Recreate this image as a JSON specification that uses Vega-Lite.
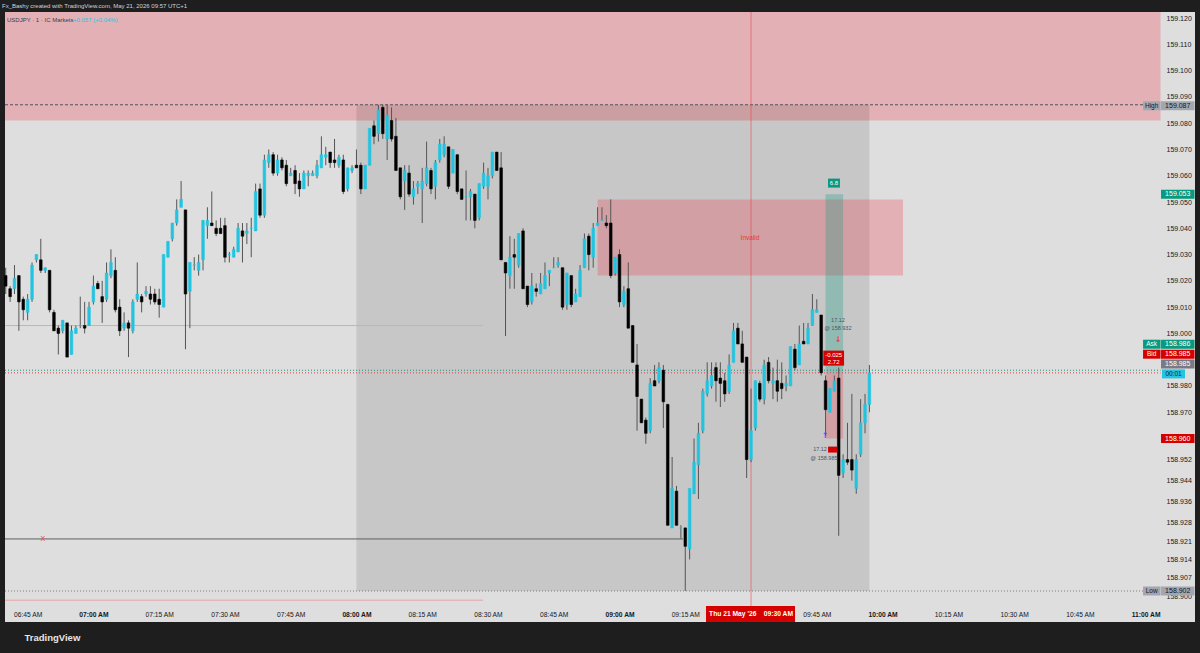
{
"$schema":"https://vega.github.io/schema/vega-lite/v6.json",
"width":1190,"height":610,
"autosize":{"type":"none"},
"padding":{"left":5,"top":12,"right":5,"bottom":31},
"background":"#1e1e1e",
"title":{"text":"Fx_Bashy created with TradingView.com, May 21, 2026 09:57 UTC+1","anchor":"start","frame":"group","orient":"top","offset":0,"baseline":"middle","fontSize":6,"fontWeight":"normal","color":"#d1d4dc","dx":-3,"font":"Liberation Sans"},
"config":{"font":"Liberation Sans","view":{"stroke":null,"fill":"#dedede"},"axis":{"grid":false,"ticks":false,"domain":false,"labelOverlap":false},"scale":{"continuousPadding":0}},
"datasets":{
"candles":[
{"d":"2026-05-21T06:40","o":159.022,"h":159.025,"l":159.015,"c":159.018},
{"d":"2026-05-21T06:41","o":159.017,"h":159.018,"l":159.012,"c":159.014},
{"d":"2026-05-21T06:42","o":159.017,"h":159.026,"l":159.015,"c":159.021},
{"d":"2026-05-21T06:43","o":159.022,"h":159.022,"l":159.001,"c":159.012},
{"d":"2026-05-21T06:44","o":159.013,"h":159.014,"l":159.005,"c":159.009},
{"d":"2026-05-21T06:45","o":159.008,"h":159.015,"l":159.005,"c":159.013},
{"d":"2026-05-21T06:46","o":159.013,"h":159.027,"l":159.012,"c":159.026},
{"d":"2026-05-21T06:47","o":159.028,"h":159.030,"l":159.027,"c":159.030},
{"d":"2026-05-21T06:48","o":159.028,"h":159.036,"l":159.023,"c":159.024},
{"d":"2026-05-21T06:49","o":159.024,"h":159.025,"l":159.023,"c":159.025},
{"d":"2026-05-21T06:50","o":159.024,"h":159.024,"l":159.008,"c":159.009},
{"d":"2026-05-21T06:51","o":159.008,"h":159.009,"l":159.001,"c":159.001},
{"d":"2026-05-21T06:52","o":159.002,"h":159.003,"l":158.992,"c":159.000},
{"d":"2026-05-21T06:53","o":159.001,"h":159.005,"l":159.000,"c":159.005},
{"d":"2026-05-21T06:54","o":159.004,"h":159.004,"l":158.991,"c":158.991},
{"d":"2026-05-21T06:55","o":158.992,"h":159.003,"l":158.992,"c":159.001},
{"d":"2026-05-21T06:56","o":159.000,"h":159.003,"l":159.000,"c":159.002},
{"d":"2026-05-21T06:57","o":159.003,"h":159.014,"l":159.002,"c":159.003},
{"d":"2026-05-21T06:58","o":159.003,"h":159.012,"l":159.000,"c":159.002},
{"d":"2026-05-21T06:59","o":159.003,"h":159.012,"l":159.003,"c":159.010},
{"d":"2026-05-21T07:00","o":159.012,"h":159.022,"l":159.011,"c":159.018},
{"d":"2026-05-21T07:01","o":159.019,"h":159.020,"l":159.017,"c":159.017},
{"d":"2026-05-21T07:02","o":159.014,"h":159.020,"l":159.004,"c":159.012},
{"d":"2026-05-21T07:03","o":159.013,"h":159.027,"l":159.012,"c":159.023},
{"d":"2026-05-21T07:04","o":159.022,"h":159.032,"l":159.021,"c":159.027},
{"d":"2026-05-21T07:05","o":159.024,"h":159.029,"l":159.008,"c":159.009},
{"d":"2026-05-21T07:06","o":159.010,"h":159.013,"l":158.999,"c":159.001},
{"d":"2026-05-21T07:07","o":159.002,"h":159.008,"l":159.001,"c":159.004},
{"d":"2026-05-21T07:08","o":159.004,"h":159.005,"l":158.991,"c":159.002},
{"d":"2026-05-21T07:09","o":159.001,"h":159.013,"l":159.000,"c":159.012},
{"d":"2026-05-21T07:10","o":159.013,"h":159.027,"l":159.012,"c":159.015},
{"d":"2026-05-21T07:11","o":159.014,"h":159.015,"l":159.008,"c":159.012},
{"d":"2026-05-21T07:12","o":159.015,"h":159.018,"l":159.014,"c":159.016},
{"d":"2026-05-21T07:13","o":159.015,"h":159.018,"l":159.011,"c":159.013},
{"d":"2026-05-21T07:14","o":159.015,"h":159.017,"l":159.011,"c":159.012},
{"d":"2026-05-21T07:15","o":159.013,"h":159.017,"l":159.006,"c":159.011},
{"d":"2026-05-21T07:16","o":159.010,"h":159.030,"l":159.010,"c":159.030},
{"d":"2026-05-21T07:17","o":159.029,"h":159.035,"l":159.029,"c":159.035},
{"d":"2026-05-21T07:18","o":159.036,"h":159.042,"l":159.035,"c":159.042},
{"d":"2026-05-21T07:19","o":159.042,"h":159.051,"l":159.041,"c":159.047},
{"d":"2026-05-21T07:20","o":159.048,"h":159.058,"l":159.048,"c":159.051},
{"d":"2026-05-21T07:21","o":159.047,"h":159.047,"l":158.994,"c":159.015},
{"d":"2026-05-21T07:22","o":159.016,"h":159.027,"l":159.002,"c":159.027},
{"d":"2026-05-21T07:23","o":159.026,"h":159.029,"l":159.024,"c":159.026},
{"d":"2026-05-21T07:24","o":159.024,"h":159.030,"l":159.022,"c":159.027},
{"d":"2026-05-21T07:25","o":159.028,"h":159.043,"l":159.024,"c":159.043},
{"d":"2026-05-21T07:26","o":159.041,"h":159.048,"l":159.036,"c":159.043},
{"d":"2026-05-21T07:27","o":159.042,"h":159.054,"l":159.041,"c":159.041},
{"d":"2026-05-21T07:28","o":159.040,"h":159.043,"l":159.037,"c":159.038},
{"d":"2026-05-21T07:29","o":159.040,"h":159.044,"l":159.038,"c":159.038},
{"d":"2026-05-21T07:30","o":159.041,"h":159.044,"l":159.027,"c":159.029},
{"d":"2026-05-21T07:31","o":159.030,"h":159.031,"l":159.027,"c":159.030},
{"d":"2026-05-21T07:32","o":159.029,"h":159.033,"l":159.029,"c":159.032},
{"d":"2026-05-21T07:33","o":159.031,"h":159.042,"l":159.031,"c":159.040},
{"d":"2026-05-21T07:34","o":159.039,"h":159.042,"l":159.027,"c":159.037},
{"d":"2026-05-21T07:35","o":159.038,"h":159.042,"l":159.034,"c":159.039},
{"d":"2026-05-21T07:36","o":159.040,"h":159.044,"l":159.029,"c":159.040},
{"d":"2026-05-21T07:37","o":159.039,"h":159.057,"l":159.039,"c":159.054},
{"d":"2026-05-21T07:38","o":159.055,"h":159.057,"l":159.044,"c":159.045},
{"d":"2026-05-21T07:39","o":159.045,"h":159.068,"l":159.044,"c":159.066},
{"d":"2026-05-21T07:40","o":159.065,"h":159.070,"l":159.063,"c":159.068},
{"d":"2026-05-21T07:41","o":159.068,"h":159.069,"l":159.060,"c":159.061},
{"d":"2026-05-21T07:42","o":159.061,"h":159.068,"l":159.060,"c":159.066},
{"d":"2026-05-21T07:43","o":159.066,"h":159.067,"l":159.062,"c":159.063},
{"d":"2026-05-21T07:44","o":159.064,"h":159.066,"l":159.056,"c":159.057},
{"d":"2026-05-21T07:45","o":159.060,"h":159.063,"l":159.060,"c":159.061},
{"d":"2026-05-21T07:46","o":159.062,"h":159.064,"l":159.053,"c":159.057},
{"d":"2026-05-21T07:47","o":159.058,"h":159.061,"l":159.052,"c":159.055},
{"d":"2026-05-21T07:48","o":159.055,"h":159.062,"l":159.055,"c":159.061},
{"d":"2026-05-21T07:49","o":159.060,"h":159.062,"l":159.056,"c":159.061},
{"d":"2026-05-21T07:50","o":159.060,"h":159.062,"l":159.060,"c":159.061},
{"d":"2026-05-21T07:51","o":159.060,"h":159.066,"l":159.059,"c":159.064},
{"d":"2026-05-21T07:52","o":159.063,"h":159.075,"l":159.063,"c":159.068},
{"d":"2026-05-21T07:53","o":159.067,"h":159.071,"l":159.064,"c":159.068},
{"d":"2026-05-21T07:54","o":159.069,"h":159.069,"l":159.063,"c":159.065},
{"d":"2026-05-21T07:55","o":159.066,"h":159.074,"l":159.063,"c":159.065},
{"d":"2026-05-21T07:56","o":159.064,"h":159.068,"l":159.063,"c":159.067},
{"d":"2026-05-21T07:57","o":159.066,"h":159.068,"l":159.053,"c":159.054},
{"d":"2026-05-21T07:58","o":159.055,"h":159.063,"l":159.054,"c":159.063},
{"d":"2026-05-21T07:59","o":159.062,"h":159.064,"l":159.061,"c":159.063},
{"d":"2026-05-21T08:00","o":159.064,"h":159.070,"l":159.063,"c":159.063},
{"d":"2026-05-21T08:01","o":159.064,"h":159.065,"l":159.053,"c":159.055},
{"d":"2026-05-21T08:02","o":159.055,"h":159.064,"l":159.055,"c":159.064},
{"d":"2026-05-21T08:03","o":159.064,"h":159.078,"l":159.064,"c":159.078},
{"d":"2026-05-21T08:04","o":159.079,"h":159.081,"l":159.072,"c":159.075},
{"d":"2026-05-21T08:05","o":159.076,"h":159.087,"l":159.073,"c":159.085},
{"d":"2026-05-21T08:06","o":159.086,"h":159.087,"l":159.074,"c":159.076},
{"d":"2026-05-21T08:07","o":159.074,"h":159.087,"l":159.066,"c":159.083},
{"d":"2026-05-21T08:08","o":159.081,"h":159.086,"l":159.073,"c":159.074},
{"d":"2026-05-21T08:09","o":159.075,"h":159.082,"l":159.062,"c":159.062},
{"d":"2026-05-21T08:10","o":159.063,"h":159.063,"l":159.051,"c":159.052},
{"d":"2026-05-21T08:11","o":159.058,"h":159.064,"l":159.047,"c":159.062},
{"d":"2026-05-21T08:12","o":159.061,"h":159.064,"l":159.052,"c":159.053},
{"d":"2026-05-21T08:13","o":159.052,"h":159.058,"l":159.049,"c":159.055},
{"d":"2026-05-21T08:14","o":159.056,"h":159.058,"l":159.053,"c":159.057},
{"d":"2026-05-21T08:15","o":159.055,"h":159.063,"l":159.042,"c":159.058},
{"d":"2026-05-21T08:16","o":159.057,"h":159.073,"l":159.056,"c":159.063},
{"d":"2026-05-21T08:17","o":159.062,"h":159.063,"l":159.053,"c":159.055},
{"d":"2026-05-21T08:18","o":159.056,"h":159.066,"l":159.051,"c":159.065},
{"d":"2026-05-21T08:19","o":159.066,"h":159.074,"l":159.065,"c":159.072},
{"d":"2026-05-21T08:20","o":159.068,"h":159.075,"l":159.067,"c":159.072},
{"d":"2026-05-21T08:21","o":159.071,"h":159.071,"l":159.055,"c":159.056},
{"d":"2026-05-21T08:22","o":159.061,"h":159.070,"l":159.061,"c":159.070},
{"d":"2026-05-21T08:23","o":159.068,"h":159.068,"l":159.053,"c":159.054},
{"d":"2026-05-21T08:24","o":159.055,"h":159.055,"l":159.051,"c":159.051},
{"d":"2026-05-21T08:25","o":159.052,"h":159.062,"l":159.043,"c":159.052},
{"d":"2026-05-21T08:26","o":159.052,"h":159.055,"l":159.043,"c":159.054},
{"d":"2026-05-21T08:27","o":159.053,"h":159.053,"l":159.040,"c":159.043},
{"d":"2026-05-21T08:28","o":159.044,"h":159.057,"l":159.043,"c":159.057},
{"d":"2026-05-21T08:29","o":159.056,"h":159.065,"l":159.055,"c":159.061},
{"d":"2026-05-21T08:30","o":159.056,"h":159.063,"l":159.051,"c":159.060},
{"d":"2026-05-21T08:31","o":159.060,"h":159.069,"l":159.059,"c":159.069},
{"d":"2026-05-21T08:32","o":159.069,"h":159.069,"l":159.062,"c":159.062},
{"d":"2026-05-21T08:33","o":159.063,"h":159.069,"l":159.028,"c":159.028},
{"d":"2026-05-21T08:34","o":159.027,"h":159.027,"l":158.999,"c":159.023},
{"d":"2026-05-21T08:35","o":159.022,"h":159.037,"l":159.017,"c":159.029},
{"d":"2026-05-21T08:36","o":159.030,"h":159.036,"l":159.017,"c":159.029},
{"d":"2026-05-21T08:37","o":159.026,"h":159.038,"l":159.025,"c":159.038},
{"d":"2026-05-21T08:38","o":159.039,"h":159.040,"l":159.017,"c":159.017},
{"d":"2026-05-21T08:39","o":159.018,"h":159.018,"l":159.010,"c":159.011},
{"d":"2026-05-21T08:40","o":159.012,"h":159.023,"l":159.011,"c":159.018},
{"d":"2026-05-21T08:41","o":159.017,"h":159.019,"l":159.014,"c":159.016},
{"d":"2026-05-21T08:42","o":159.015,"h":159.023,"l":159.015,"c":159.019},
{"d":"2026-05-21T08:43","o":159.017,"h":159.027,"l":159.017,"c":159.022},
{"d":"2026-05-21T08:44","o":159.023,"h":159.024,"l":159.018,"c":159.024},
{"d":"2026-05-21T08:45","o":159.025,"h":159.029,"l":159.025,"c":159.025},
{"d":"2026-05-21T08:46","o":159.026,"h":159.029,"l":159.025,"c":159.027},
{"d":"2026-05-21T08:47","o":159.025,"h":159.025,"l":159.009,"c":159.010},
{"d":"2026-05-21T08:48","o":159.011,"h":159.023,"l":159.009,"c":159.023},
{"d":"2026-05-21T08:49","o":159.022,"h":159.022,"l":159.010,"c":159.011},
{"d":"2026-05-21T08:50","o":159.012,"h":159.017,"l":159.012,"c":159.015},
{"d":"2026-05-21T08:51","o":159.014,"h":159.026,"l":159.014,"c":159.024},
{"d":"2026-05-21T08:52","o":159.025,"h":159.038,"l":159.025,"c":159.036},
{"d":"2026-05-21T08:53","o":159.037,"h":159.038,"l":159.024,"c":159.030},
{"d":"2026-05-21T08:54","o":159.029,"h":159.042,"l":159.025,"c":159.040},
{"d":"2026-05-21T08:55","o":159.041,"h":159.048,"l":159.041,"c":159.042},
{"d":"2026-05-21T08:56","o":159.043,"h":159.048,"l":159.043,"c":159.043},
{"d":"2026-05-21T08:57","o":159.042,"h":159.045,"l":159.040,"c":159.041},
{"d":"2026-05-21T08:58","o":159.042,"h":159.051,"l":159.021,"c":159.022},
{"d":"2026-05-21T08:59","o":159.023,"h":159.029,"l":159.022,"c":159.029},
{"d":"2026-05-21T09:00","o":159.030,"h":159.032,"l":159.010,"c":159.012},
{"d":"2026-05-21T09:01","o":159.011,"h":159.018,"l":159.010,"c":159.016},
{"d":"2026-05-21T09:02","o":159.017,"h":159.027,"l":159.002,"c":159.002},
{"d":"2026-05-21T09:03","o":159.003,"h":159.003,"l":158.989,"c":158.989},
{"d":"2026-05-21T09:04","o":158.988,"h":158.996,"l":158.963,"c":158.976},
{"d":"2026-05-21T09:05","o":158.975,"h":158.975,"l":158.966,"c":158.966},
{"d":"2026-05-21T09:06","o":158.967,"h":158.968,"l":158.958,"c":158.962},
{"d":"2026-05-21T09:07","o":158.963,"h":158.983,"l":158.962,"c":158.981},
{"d":"2026-05-21T09:08","o":158.982,"h":158.988,"l":158.980,"c":158.980},
{"d":"2026-05-21T09:09","o":158.982,"h":158.989,"l":158.981,"c":158.987},
{"d":"2026-05-21T09:10","o":158.986,"h":158.988,"l":158.964,"c":158.974},
{"d":"2026-05-21T09:11","o":158.973,"h":158.973,"l":158.927,"c":158.927},
{"d":"2026-05-21T09:12","o":158.926,"h":158.953,"l":158.926,"c":158.941},
{"d":"2026-05-21T09:13","o":158.940,"h":158.942,"l":158.927,"c":158.927},
{"d":"2026-05-21T09:14","o":158.926,"h":158.927,"l":158.922,"c":158.926},
{"d":"2026-05-21T09:15","o":158.926,"h":158.926,"l":158.902,"c":158.919},
{"d":"2026-05-21T09:16","o":158.918,"h":158.941,"l":158.914,"c":158.941},
{"d":"2026-05-21T09:17","o":158.939,"h":158.960,"l":158.939,"c":158.951},
{"d":"2026-05-21T09:18","o":158.950,"h":158.966,"l":158.937,"c":158.962},
{"d":"2026-05-21T09:19","o":158.963,"h":158.979,"l":158.962,"c":158.978},
{"d":"2026-05-21T09:20","o":158.977,"h":158.989,"l":158.976,"c":158.982},
{"d":"2026-05-21T09:21","o":158.980,"h":158.989,"l":158.979,"c":158.984},
{"d":"2026-05-21T09:22","o":158.987,"h":158.989,"l":158.974,"c":158.982},
{"d":"2026-05-21T09:23","o":158.983,"h":158.989,"l":158.972,"c":158.981},
{"d":"2026-05-21T09:24","o":158.982,"h":158.985,"l":158.974,"c":158.977},
{"d":"2026-05-21T09:25","o":158.978,"h":158.992,"l":158.977,"c":158.988},
{"d":"2026-05-21T09:26","o":158.989,"h":159.004,"l":158.989,"c":159.001},
{"d":"2026-05-21T09:27","o":159.002,"h":159.004,"l":158.996,"c":158.996},
{"d":"2026-05-21T09:28","o":158.996,"h":159.001,"l":158.989,"c":158.989},
{"d":"2026-05-21T09:29","o":158.991,"h":158.991,"l":158.945,"c":158.952},
{"d":"2026-05-21T09:30","o":158.952,"h":158.979,"l":158.951,"c":158.963},
{"d":"2026-05-21T09:31","o":158.964,"h":158.982,"l":158.963,"c":158.982},
{"d":"2026-05-21T09:32","o":158.981,"h":158.982,"l":158.974,"c":158.975},
{"d":"2026-05-21T09:33","o":158.975,"h":158.990,"l":158.973,"c":158.988},
{"d":"2026-05-21T09:34","o":158.989,"h":158.991,"l":158.981,"c":158.982},
{"d":"2026-05-21T09:35","o":158.981,"h":158.987,"l":158.975,"c":158.982},
{"d":"2026-05-21T09:36","o":158.982,"h":158.990,"l":158.974,"c":158.978},
{"d":"2026-05-21T09:37","o":158.981,"h":158.989,"l":158.975,"c":158.979},
{"d":"2026-05-21T09:38","o":158.980,"h":158.984,"l":158.978,"c":158.981},
{"d":"2026-05-21T09:39","o":158.980,"h":158.995,"l":158.980,"c":158.995},
{"d":"2026-05-21T09:40","o":158.994,"h":158.996,"l":158.986,"c":158.987},
{"d":"2026-05-21T09:41","o":158.988,"h":159.003,"l":158.988,"c":158.996},
{"d":"2026-05-21T09:42","o":158.997,"h":159.004,"l":158.996,"c":158.996},
{"d":"2026-05-21T09:43","o":158.996,"h":159.004,"l":158.996,"c":159.002},
{"d":"2026-05-21T09:44","o":159.003,"h":159.015,"l":159.003,"c":159.009},
{"d":"2026-05-21T09:45","o":159.008,"h":159.013,"l":159.008,"c":159.009},
{"d":"2026-05-21T09:46","o":159.007,"h":159.007,"l":158.984,"c":158.985},
{"d":"2026-05-21T09:47","o":158.982,"h":158.984,"l":158.961,"c":158.971},
{"d":"2026-05-21T09:48","o":158.970,"h":158.979,"l":158.970,"c":158.979},
{"d":"2026-05-21T09:49","o":158.978,"h":158.984,"l":158.978,"c":158.982},
{"d":"2026-05-21T09:50","o":158.983,"h":158.987,"l":158.923,"c":158.946},
{"d":"2026-05-21T09:51","o":158.947,"h":158.954,"l":158.945,"c":158.952},
{"d":"2026-05-21T09:52","o":158.952,"h":158.966,"l":158.950,"c":158.951},
{"d":"2026-05-21T09:53","o":158.952,"h":158.977,"l":158.944,"c":158.948},
{"d":"2026-05-21T09:54","o":158.941,"h":158.954,"l":158.939,"c":158.952},
{"d":"2026-05-21T09:55","o":158.954,"h":158.975,"l":158.953,"c":158.966},
{"d":"2026-05-21T09:56","o":158.966,"h":158.977,"l":158.962,"c":158.973},
{"d":"2026-05-21T09:57","o":158.973,"h":158.988,"l":158.970,"c":158.985}
],
"tags":[
{"k":"High","p":159.0866,"txt":"159.087"},
{"k":"Target","p":159.053,"txt":"159.053"},
{"k":"Ask","p":158.9959,"txt":"158.986"},
{"k":"Bid","p":158.9921,"txt":"158.985"},
{"k":"Last","p":158.9884,"txt":"158.985"},
{"k":"Stop","p":158.960,"txt":"158.960"},
{"k":"Low","p":158.902,"txt":"158.902"}
],
"sidetags":[
{"k":"High","p":159.0866,"txt":"High"},
{"k":"Ask","p":158.9959,"txt":"Ask"},
{"k":"Bid","p":158.9921,"txt":"Bid"},
{"k":"Low","p":158.902,"txt":"Low"}
]
},
"layer":[
{"data":{"values":[
{"z":"top","t1":"2026-05-21T06:39:50","t2":"2026-05-21T11:03:24","p1":159.081,"p2":159.1223},
{"z":"box","t1":"2026-05-21T08:00","t2":"2026-05-21T09:57","p1":158.902,"p2":159.087},
{"z":"invalid","t1":"2026-05-21T08:55","t2":"2026-05-21T10:04:40","p1":159.022,"p2":159.051},
{"z":"target","t1":"2026-05-21T09:47","t2":"2026-05-21T09:51","p1":158.985,"p2":159.053},
{"z":"stop","t1":"2026-05-21T09:47","t2":"2026-05-21T09:51","p1":158.960,"p2":158.985}
]},
"mark":{"type":"rect"},
"encoding":{
"x":{"field":"t1","type":"temporal","scale":{"domain":[{"year":2026,"month":5,"date":21,"hours":6,"minutes":39,"seconds":50},{"year":2026,"month":5,"date":21,"hours":11,"minutes":11,"seconds":16}],"nice":false,"padding":0},
"axis":{"orient":"bottom","offset":-24,"format":"%I:%M %p","labelFontSize":6.7,"labelColor":"#131722","labelPadding":13,"labelOverlap":false,"labelBound":false,"labelFlush":false,"tickCount":100,
"labelFontWeight":{"condition":{"test":"minutes(datum.value) === 0","value":"bold"},"value":"normal"},
"values":[{"year":2026,"month":5,"date":21,"hours":6,"minutes":45},{"year":2026,"month":5,"date":21,"hours":7,"minutes":0},{"year":2026,"month":5,"date":21,"hours":7,"minutes":15},{"year":2026,"month":5,"date":21,"hours":7,"minutes":30},{"year":2026,"month":5,"date":21,"hours":7,"minutes":45},{"year":2026,"month":5,"date":21,"hours":8,"minutes":0},{"year":2026,"month":5,"date":21,"hours":8,"minutes":15},{"year":2026,"month":5,"date":21,"hours":8,"minutes":30},{"year":2026,"month":5,"date":21,"hours":8,"minutes":45},{"year":2026,"month":5,"date":21,"hours":9,"minutes":0},{"year":2026,"month":5,"date":21,"hours":9,"minutes":15},{"year":2026,"month":5,"date":21,"hours":9,"minutes":45},{"year":2026,"month":5,"date":21,"hours":10,"minutes":0},{"year":2026,"month":5,"date":21,"hours":10,"minutes":15},{"year":2026,"month":5,"date":21,"hours":10,"minutes":30},{"year":2026,"month":5,"date":21,"hours":10,"minutes":45},{"year":2026,"month":5,"date":21,"hours":11,"minutes":0}],
"title":"TradingView","titleAnchor":"start","titleAlign":"left","titleX":19,"titleY":39,"titleBaseline":"middle","titleFontSize":9.5,"titleFontWeight":"bold","titleColor":"#e6e6e6"}},
"x2":{"field":"t2"},
"y":{"field":"p1","type":"quantitative","scale":{"domain":[158.8902,159.1223],"zero":false,"nice":false,"padding":0},
"axis":{"orient":"right","offset":-35,"format":".3f","labelFontSize":7,"labelColor":"#131722","labelPadding":6,"labelAlign":"left","labelBaseline":"middle","labelBound":false,"labelOverlap":false,"tickCount":100,"title":null,
"values":[159.12,159.11,159.1,159.09,159.08,159.07,159.06,159.05,159.04,159.03,159.02,159.01,159.0,158.98,158.97,158.952,158.944,158.936,158.928,158.921,158.914,158.907,158.9]}},
"y2":{"field":"p2"},
"fill":{"field":"z","type":"nominal","legend":null,"scale":{"domain":["top","box","invalid","target","stop"],"range":["rgba(242,54,69,0.27)","rgba(0,0,0,0.1)","rgba(242,54,69,0.27)","rgba(8,153,129,0.28)","rgba(242,54,69,0.27)"]}}
}},
{"data":{"values":[
{"s":"high","p":159.087,"t1":"2026-05-21T06:39:50","t2":"2026-05-21T10:59:25"},
{"s":"low","p":158.902,"t1":"2026-05-21T06:39:50","t2":"2026-05-21T10:59:25"},
{"s":"ask","p":158.986,"t1":"2026-05-21T06:39:50","t2":"2026-05-21T11:03:24"},
{"s":"bid","p":158.985,"t1":"2026-05-21T06:39:50","t2":"2026-05-21T11:03:24"},
{"s":"level","p":159.003,"t1":"2026-05-21T06:39:50","t2":"2026-05-21T08:28:52"},
{"s":"level","p":158.8985,"t1":"2026-05-21T06:39:50","t2":"2026-05-21T08:28:52"},
{"s":"hline","p":158.9218,"t1":"2026-05-21T06:39:50","t2":"2026-05-21T09:14:29"}
]},
"mark":{"type":"rule","strokeWidth":1},
"encoding":{
"x":{"field":"t1","type":"temporal"},
"x2":{"field":"t2"},
"y":{"field":"p","type":"quantitative"},
"stroke":{"field":"s","type":"nominal","legend":null,"scale":{"domain":["high","low","ask","bid","level","hline"],"range":["#50535e","#787b86","#089981","#f23645","#eba2a8","#5d5f66"]}},
"strokeDash":{"field":"s","type":"nominal","legend":null,"scale":{"domain":["high","low","ask","bid","level","hline"],"range":[[3,2],[1,2],[1,2],[1,2],[1,0],[1,0]]}}
}},
{"data":{"values":[{}]},
"mark":{"type":"rule","color":"#f23645","opacity":0.55,"strokeWidth":1},
"encoding":{"x":{"datum":{"year":2026,"month":5,"date":21,"hours":9,"minutes":30},"type":"temporal"}}},
{"data":{"name":"candles"},
"mark":{"type":"rule","color":"#555555","strokeWidth":1},
"encoding":{
"x":{"field":"d","type":"temporal"},
"y":{"field":"l","type":"quantitative"},
"y2":{"field":"h"}
}},
{"data":{"name":"candles"},
"mark":{"type":"bar","size":2.6,"strokeWidth":0.6},
"encoding":{
"x":{"field":"d","type":"temporal"},
"y":{"field":"o","type":"quantitative"},
"y2":{"field":"c"},
"color":{"condition":{"test":"datum.c >= datum.o","value":"#22c4e0"},"value":"#000000"},
"stroke":{"condition":{"test":"datum.c >= datum.o","value":"#22c4e0"},"value":"#000000"}
}},
{"data":{"name":"tags"},
"mark":{"type":"bar","size":9},
"encoding":{
"x":{"datum":{"year":2026,"month":5,"date":21,"hours":11,"minutes":3,"seconds":31},"type":"temporal"},
"x2":{"datum":{"year":2026,"month":5,"date":21,"hours":11,"minutes":11,"seconds":9}},
"y":{"field":"p","type":"quantitative"},
"color":{"field":"k","type":"nominal","legend":null,"scale":{"domain":["High","Target","Ask","Bid","Last","Stop","Low"],"range":["#a3a6af","#089981","#089981","#d50000","#787b86","#d50000","#a3a6af"]}}
}},
{"data":{"name":"sidetags"},
"mark":{"type":"bar","size":9},
"encoding":{
"x":{"datum":{"year":2026,"month":5,"date":21,"hours":10,"minutes":59,"seconds":25},"type":"temporal"},
"x2":{"datum":{"year":2026,"month":5,"date":21,"hours":11,"minutes":3,"seconds":24}},
"y":{"field":"p","type":"quantitative"},
"color":{"field":"k","type":"nominal","legend":null}
}},
{"data":{"values":[{"p":158.9846,"txt":"00:01"}]},
"mark":{"type":"bar","size":9,"color":"#22c4e0"},
"encoding":{
"x":{"datum":{"year":2026,"month":5,"date":21,"hours":11,"minutes":3,"seconds":44},"type":"temporal"},
"x2":{"datum":{"year":2026,"month":5,"date":21,"hours":11,"minutes":8,"seconds":59}},
"y":{"field":"p","type":"quantitative"}
}},
{"data":{"name":"tags"},
"mark":{"type":"text","fontSize":7,"align":"center","baseline":"middle"},
"encoding":{
"x":{"datum":{"year":2026,"month":5,"date":21,"hours":11,"minutes":7,"seconds":20},"type":"temporal"},
"y":{"field":"p","type":"quantitative"},
"text":{"field":"txt"},
"color":{"condition":{"test":"datum.k === 'High' || datum.k === 'Low'","value":"#131722"},"value":"#ffffff"}
}},
{"data":{"name":"sidetags"},
"mark":{"type":"text","fontSize":6.5,"align":"center","baseline":"middle"},
"encoding":{
"x":{"datum":{"year":2026,"month":5,"date":21,"hours":11,"minutes":1,"seconds":23},"type":"temporal"},
"y":{"field":"p","type":"quantitative"},
"text":{"field":"txt"},
"color":{"condition":{"test":"datum.k === 'High' || datum.k === 'Low'","value":"#131722"},"value":"#ffffff"}
}},
{"data":{"values":[{"p":158.9846,"txt":"00:01"}]},
"mark":{"type":"text","fontSize":6.5,"align":"center","baseline":"middle","color":"#131722"},
"encoding":{
"x":{"datum":{"year":2026,"month":5,"date":21,"hours":11,"minutes":6,"seconds":22},"type":"temporal"},
"y":{"field":"p","type":"quantitative"},
"text":{"field":"txt"}
}},
{"data":{"values":[{"p":158.8932,"txt":"Thu 21 May '26\u00a0\u00a0\u00a0\u00a009:30 AM"}]},
"mark":{"type":"bar","size":16,"color":"#d50000"},
"encoding":{
"x":{"datum":{"year":2026,"month":5,"date":21,"hours":9,"minutes":19,"seconds":44},"type":"temporal"},
"x2":{"datum":{"year":2026,"month":5,"date":21,"hours":9,"minutes":40,"seconds":2}},
"y":{"field":"p","type":"quantitative"}
}},
{"data":{"values":[{"p":158.8932,"txt":"Thu 21 May '26\u00a0\u00a0\u00a0\u00a009:30 AM"}]},
"mark":{"type":"text","fontSize":6.7,"fontWeight":"bold","align":"center","baseline":"middle","color":"#ffffff"},
"encoding":{
"x":{"datum":{"year":2026,"month":5,"date":21,"hours":9,"minutes":30},"type":"temporal"},
"y":{"field":"p","type":"quantitative"},
"text":{"field":"txt"}
}},
{"data":{"values":[{"p":159.0572}]},
"mark":{"type":"bar","size":9,"color":"#089981"},
"encoding":{
"x":{"datum":{"year":2026,"month":5,"date":21,"hours":9,"minutes":47,"seconds":34},"type":"temporal"},
"x2":{"datum":{"year":2026,"month":5,"date":21,"hours":9,"minutes":50,"seconds":17}},
"y":{"field":"p","type":"quantitative"}
}},
{"data":{"values":[{"p":158.9906}]},
"mark":{"type":"bar","size":15,"color":"#d50000"},
"encoding":{
"x":{"datum":{"year":2026,"month":5,"date":21,"hours":9,"minutes":46,"seconds":29},"type":"temporal"},
"x2":{"datum":{"year":2026,"month":5,"date":21,"hours":9,"minutes":51,"seconds":13}},
"y":{"field":"p","type":"quantitative"}
}},
{"data":{"values":[{"p":158.9558}]},
"mark":{"type":"bar","size":6,"color":"#d50000"},
"encoding":{
"x":{"datum":{"year":2026,"month":5,"date":21,"hours":9,"minutes":47,"seconds":34},"type":"temporal"},
"x2":{"datum":{"year":2026,"month":5,"date":21,"hours":9,"minutes":49,"seconds":37}},
"y":{"field":"p","type":"quantitative"}
}},
{"data":{"values":[
{"t":"2026-05-21T09:48:56","p":159.0572,"txt":"6.8"},
{"t":"2026-05-21T09:48:51","p":158.9919,"txt":"-0.025"},
{"t":"2026-05-21T09:48:51","p":158.9893,"txt":"2.72"}
]},
"mark":{"type":"text","fontSize":6,"align":"center","baseline":"middle","color":"#ffffff"},
"encoding":{
"x":{"field":"t","type":"temporal"},
"y":{"field":"p","type":"quantitative"},
"text":{"field":"txt"}
}},
{"data":{"values":[
{"t":"2026-05-21T09:49:50","p":159.0051,"txt":"17.12"},
{"t":"2026-05-21T09:49:50","p":159.0022,"txt":"@ 158.932"},
{"t":"2026-05-21T09:45:44","p":158.9560,"txt":"17.12"},
{"t":"2026-05-21T09:46:39","p":158.9526,"txt":"@ 158.985"}
]},
"mark":{"type":"text","fontSize":5.5,"align":"center","baseline":"middle","color":"#50535e"},
"encoding":{
"x":{"field":"t","type":"temporal"},
"y":{"field":"p","type":"quantitative"},
"text":{"field":"txt"}
}},
{"data":{"values":[{"t":"2026-05-21T09:49:50","p":158.9975,"txt":"↓"}]},
"mark":{"type":"text","fontSize":8,"font":"DejaVu Sans","fontWeight":"bold","align":"center","baseline":"middle","color":"#f23645"},
"encoding":{
"x":{"field":"t","type":"temporal"},
"y":{"field":"p","type":"quantitative"},
"text":{"field":"txt"}
}},
{"data":{"values":[{"t":"2026-05-21T09:46:52","p":158.9610,"txt":"↑"}]},
"mark":{"type":"text","fontSize":8,"font":"DejaVu Sans","fontWeight":"bold","align":"center","baseline":"middle","color":"#2962ff"},
"encoding":{
"x":{"field":"t","type":"temporal"},
"y":{"field":"p","type":"quantitative"},
"text":{"field":"txt"}
}},
{"data":{"values":[{"t":"2026-05-21T09:29:46","p":159.0363,"txt":"Invalid"}]},
"mark":{"type":"text","fontSize":6.5,"align":"center","baseline":"middle","color":"#e53935"},
"encoding":{
"x":{"field":"t","type":"temporal"},
"y":{"field":"p","type":"quantitative"},
"text":{"field":"txt"}
}},
{"data":{"values":[{"t":"2026-05-21T06:48:29","p":158.9218,"txt":"X"}]},
"mark":{"type":"text","fontSize":7,"align":"center","baseline":"middle","color":"#f23645"},
"encoding":{
"x":{"field":"t","type":"temporal"},
"y":{"field":"p","type":"quantitative"},
"text":{"field":"txt"}
}},
{"data":{"values":[{"t":"2026-05-21T06:40:17","p":159.1193,"txt":"USDJPY · 1 · IC Markets"}]},
"mark":{"type":"text","fontSize":6,"align":"left","baseline":"middle","color":"#3a3d46"},
"encoding":{
"x":{"field":"t","type":"temporal"},
"y":{"field":"p","type":"quantitative"},
"text":{"field":"txt"}
}},
{"data":{"values":[{"t":"2026-05-21T06:55:20","p":159.1193,"txt":"+0.057 (+0.04%)"}]},
"mark":{"type":"text","fontSize":6,"align":"left","baseline":"middle","color":"#22c4e0"},
"encoding":{
"x":{"field":"t","type":"temporal"},
"y":{"field":"p","type":"quantitative"},
"text":{"field":"txt"}
}}
]
}
